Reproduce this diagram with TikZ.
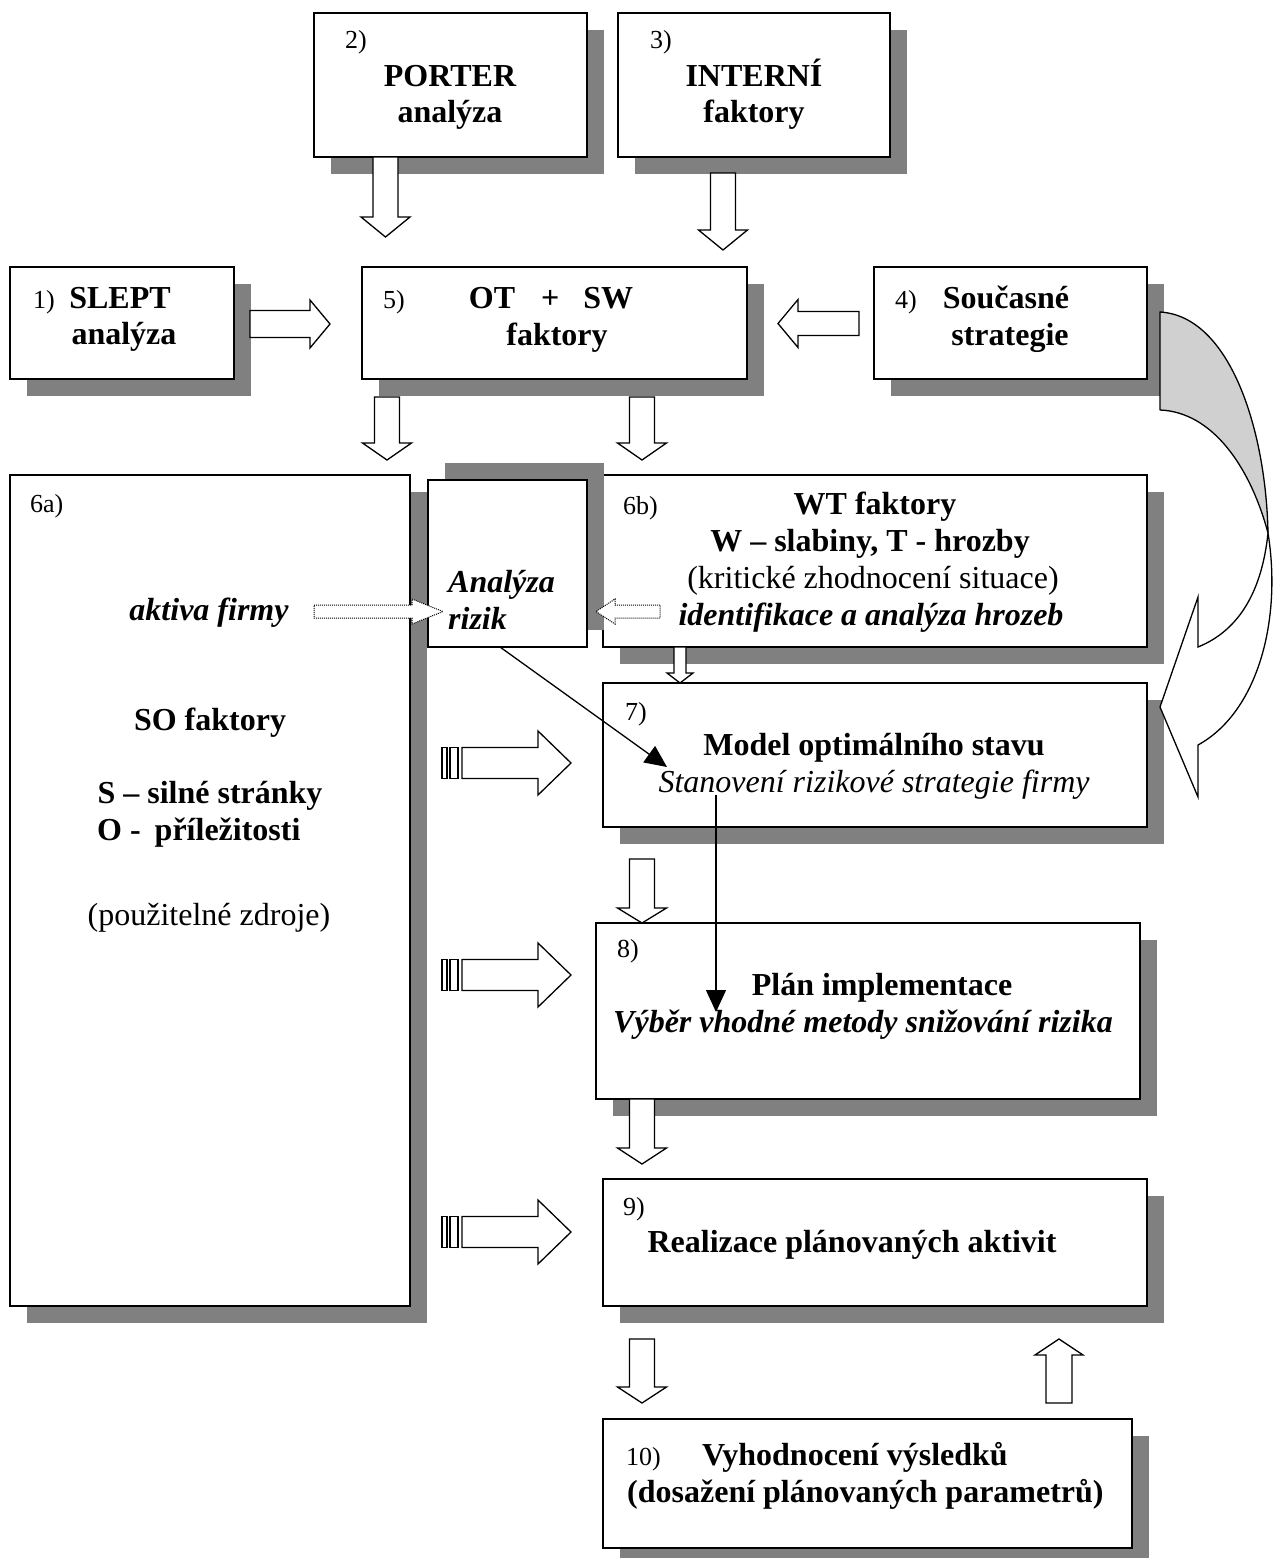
\documentclass[tikz,border=0pt]{standalone}
\usepackage{fontspec}
\setmainfont{Liberation Serif}
\usetikzlibrary{shadows,arrows.meta}
\definecolor{shgray}{HTML}{808080}
\definecolor{crgray}{HTML}{D0D0D0}
\newcommand\mydarrow[6]{%
  \draw[barrow] ({#1-#5},#2) -- ({#1-#5},#3) -- ({#1-#6},#3) -- (#1,#4) -- ({#1+#6},#3) -- ({#1+#5},#3) -- ({#1+#5},#2) -- cycle;}
\newcommand\myharrow[7][barrow]{%
  \draw[#1] (#3,{#2-#6}) -- (#4,{#2-#6}) -- (#4,{#2-#7}) -- (#5,#2) -- (#4,{#2+#7}) -- (#4,{#2+#6}) -- (#3,{#2+#6}) -- cycle;}
\newcommand\mystriped[1]{%
  \draw[barrow] (442,{#1-15.5}) rectangle (447,{#1+15.5});
  \draw[barrow] (450,{#1-15.5}) rectangle (458,{#1+15.5});
  \myharrow{#1}{462}{538}{571}{15.5}{32}}
\begin{document}
\begin{tikzpicture}[x=1pt,y=-1pt,
  box/.style={draw, line width=1.5pt, fill=white, inner sep=0pt, outer sep=0pt,
    drop shadow={shadow xshift=17pt, shadow yshift=-17pt, fill=shgray, opacity=1}},
  upbox/.style={draw, line width=1.5pt, fill=white, inner sep=0pt, outer sep=0pt,
    drop shadow={shadow xshift=17pt, shadow yshift=17pt, fill=shgray, opacity=1}},
  barrow/.style={draw, line width=1.3pt, fill=white, line join=miter},
  dotarrow/.style={draw, line width=1pt, densely dotted, fill=white},
  tb/.style={font=\fontsize{32}{38}\selectfont\bfseries, anchor=base, inner sep=0pt},
  tr/.style={font=\fontsize{32}{38}\selectfont, anchor=base, inner sep=0pt},
  tbi/.style={font=\fontsize{32}{38}\selectfont\bfseries\itshape, anchor=base, inner sep=0pt},
  ti/.style={font=\fontsize{32}{38}\selectfont\itshape, anchor=base, inner sep=0pt},
  num/.style={font=\fontsize{26}{30}\selectfont, anchor=base west, inner sep=0pt},
  thinarrow/.style={line width=1.3pt, -{Triangle[length=22pt,width=20pt]}}]
\useasboundingbox (0,0) rectangle (1272,1558);
\fill[white] (0,0) rectangle (1272,1558);

% boxes
\node[box, minimum width=273pt, minimum height=144pt] (b2) at (450.5,85) {};
\node[box, minimum width=272pt, minimum height=144pt] (b3) at (754,85) {};
\node[box, minimum width=224pt, minimum height=112pt] (b1) at (122,323) {};
\node[box, minimum width=385pt, minimum height=112pt] (b5) at (554.5,323) {};
\node[box, minimum width=273pt, minimum height=112pt] (b4) at (1010.5,323) {};
\node[box, minimum width=400pt, minimum height=831pt] (b6a) at (210,890.5) {};
\node[box, minimum width=544pt, minimum height=172pt] (b6b) at (875,561) {};
\node[upbox, minimum width=159pt, minimum height=167pt] (an) at (507.5,563.5) {};
\node[box, minimum width=544pt, minimum height=144pt] (b7) at (875,755) {};
\node[box, minimum width=544pt, minimum height=176pt] (b8) at (868,1011) {};
\node[box, minimum width=544pt, minimum height=127pt] (b9) at (875,1242.5) {};
\node[box, minimum width=529pt, minimum height=129pt] (b10) at (867.5,1483.5) {};

% block arrows (down)
\mydarrow{385.5}{157}{217}{237}{12.5}{24.5}
\mydarrow{723}{173}{230}{250}{12.5}{24.5}
\mydarrow{387}{397}{443}{460}{12.5}{24.5}
\mydarrow{642}{397}{443}{460}{12.5}{24.5}
\mydarrow{680}{647}{673}{683}{6}{13}
\mydarrow{642}{859}{908}{923}{12.5}{24.5}
\mydarrow{642}{1099}{1148}{1164}{12.5}{24.5}
\mydarrow{642}{1339}{1387}{1403}{12.5}{24.5}
% up
\mydarrow{1059}{1403}{1355}{1339}{13}{24}
% horizontal
\myharrow{324}{250}{310}{330}{13.5}{24}
\myharrow{323.5}{859}{798}{778}{12}{24}
\mystriped{763}
\mystriped{975}
\mystriped{1232}
% dotted arrows
\myharrow[dotarrow]{611.5}{314}{412}{443}{6.5}{12.5}
\myharrow[dotarrow]{611.5}{660}{615}{596}{6.5}{12.5}

% thin arrows
\coordinate (t7) at (667,767);
\coordinate (s7) at (716,795);
\coordinate (t8) at (716,1012);
\draw[thinarrow] ([xshift=72pt]an.south west) -- (t7);
\draw[thinarrow] (s7) -- (t8);

% curved arrow
\draw[line width=1.3pt, fill=crgray, line join=round]
  (1160,312) .. controls (1230,316) and (1266,430) .. (1268,533)
  .. controls (1250,466) and (1212,412) .. (1160,410) -- cycle;
\draw[line width=1.3pt, fill=white, line join=miter]
  (1268,533) .. controls (1262,590) and (1240,630) .. (1198,647)
  -- (1198,597) -- (1160,707) -- (1198,797) -- (1198,745)
  .. controls (1258,712) and (1282,620) .. (1268,533) -- cycle;

% texts
\node[num] (n2) at (345,48) {2)};
\node[tb] (t2a) at (450,86) {PORTER};
\node[tb] (t2b) at (450,122) {analýza};
\node[num] (n3) at (650,48) {3)};
\node[tb] (t3a) at (754,86) {INTERNÍ};
\node[tb] (t3b) at (754,122) {faktory};
\node[num] (n1) at (33,308) {1)};
\node[tb] (t1a) at (120,308) {SLEPT};
\node[tb] (t1b) at (124,344) {analýza};
\node[num] (n5) at (383,308) {5)};
\node[tb] (t5a) at (551,308) {OT\hspace{26pt}+\hspace{24pt}SW};
\node[tb] (t5b) at (557,345) {faktory};
\node[num] (n4) at (895,308) {4)};
\node[tb] (t4a) at (1006,308) {Současné};
\node[tb] (t4b) at (1010,345) {strategie};
\node[num] (n6a) at (30,512) {6a)};
\node[tbi] (t6a1) at (209,620) {aktiva firmy};
\node[tb] (t6a2) at (210,730) {SO faktory};
\node[tb] (t6a3) at (210,803) {S – silné stránky};
\node[tb, anchor=base west] (t6a4) at (97,840) {O -\hspace{14pt}příležitosti};
\node[tr] (t6a5) at (209,925) {(použitelné zdroje)};
\node[tbi, anchor=base west] (tan1) at (448,592) {Analýza};
\node[tbi, anchor=base west] (tan2) at (448,629) {rizik};
\node[num] (n6b) at (623,514) {6b)};
\node[tb] (t6b1) at (875,514) {WT faktory};
\node[tb] (t6b2) at (870,551) {W – slabiny, T - hrozby};
\node[tr] (t6b3) at (873,588) {(kritické zhodnocení situace)};
\node[tbi] (t6b4) at (871,625) {identifikace a analýza hrozeb};
\node[num] (n7) at (625,720) {7)};
\node[tb] (t7a) at (874,755) {Model optimálního stavu};
\node[ti] (t7b) at (874,792) {Stanovení rizikové strategie firmy};
\node[num] (n8) at (617,957) {8)};
\node[tb] (t8a) at (882,995) {Plán implementace};
\node[tbi] (t8b) at (863,1032) {Výběr vhodné metody snižování rizika};
\node[num] (n9) at (623,1215) {9)};
\node[tb] (t9a) at (852,1252) {Realizace plánovaných aktivit};
\node[num] (n10) at (626,1465) {10)};
\node[tb, anchor=base west] (t10a) at (702,1465) {Vyhodnocení výsledků};
\node[tb, anchor=base west] (t10b) at (627,1502) {(dosažení plánovaných parametrů)};
\end{tikzpicture}
\end{document}
